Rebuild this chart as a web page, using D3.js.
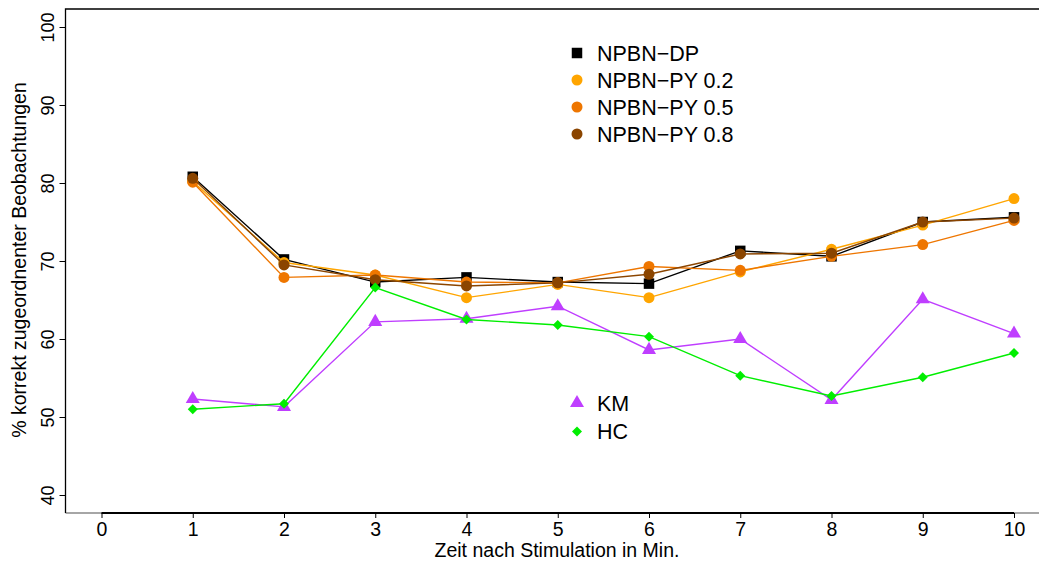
<!DOCTYPE html>
<html>
<head>
<meta charset="utf-8">
<script src="https://cdn.jsdelivr.net/npm/d3@7.9.0/dist/d3.min.js"></script>
<style>
  body { margin: 0; background: #fff; }
  svg { display: block; font-family: "Liberation Sans", Arial, sans-serif; }
</style>
</head>
<body>
<div id="chart"></div>
<script>
// Minutes after stimulation
const minutes = [1, 2, 3, 4, 5, 6, 7, 8, 9, 10];

// % correctly assigned observations per method
const npbnDP = [80.8, 70.2, 67.3, 67.9, 67.3, 67.1, 71.3, 70.6, 75.0, 75.6];
const npbnPY02 = [80.2, 69.8, 68.2, 65.3, 67.0, 65.3, 68.6, 71.5, 74.6, 78.0];
const npbnPY05 = [80.1, 67.9, 68.2, 67.3, 67.2, 69.3, 68.8, 70.6, 72.1, 75.2];
const npbnPY08 = [80.6, 69.5, 67.6, 66.8, 67.2, 68.3, 70.9, 71.0, 75.0, 75.5];
const km = [52.3, 51.3, 62.2, 62.6, 64.2, 58.6, 60.0, 52.2, 65.1, 60.7];
const hc = [51.0, 51.7, 66.6, 62.5, 61.8, 60.3, 55.3, 52.7, 55.1, 58.2];

const xTicks = d3.range(0, 11);
const yTicks = [40, 50, 60, 70, 80, 90, 100];

const seriesTop = [
  { name: "NPBN\u2212DP", values: npbnDP, color: "#000000", shape: "square" },
  { name: "NPBN\u2212PY 0.2", values: npbnPY02, color: "#FFA500", shape: "circle" },
  { name: "NPBN\u2212PY 0.5", values: npbnPY05, color: "#EE7600", shape: "circle" },
  { name: "NPBN\u2212PY 0.8", values: npbnPY08, color: "#8B4500", shape: "circle" },
];
const seriesBottom = [
  { name: "KM", values: km, color: "#BF3EFF", shape: "triangle" },
  { name: "HC", values: hc, color: "#00EE00", shape: "diamond" },
];

const width = 1039;
const height = 563;
const frame = { left: 65.5, top: 9, bottom: 513, right: width };

const x = d3.scaleLinear().domain([0, 10]).range([101.5, 1014]);
const y = d3.scaleLinear().domain([40, 100]).range([495, 27]);

const svg = d3.select("#chart").append("svg")
  .attr("width", width).attr("height", height);

// box (grey bottom, black left/top)
svg.append("line")
  .attr("x1", frame.left).attr("x2", frame.right)
  .attr("y1", frame.bottom).attr("y2", frame.bottom)
  .attr("stroke", "#888").attr("stroke-width", 1.5);
svg.append("path")
  .attr("d", `M${frame.left},${frame.bottom}V${frame.top}H${frame.right}`)
  .attr("fill", "none").attr("stroke", "#000").attr("stroke-width", 1.3);

// x axis
const gx = svg.append("g").attr("transform", `translate(0,${frame.bottom})`)
  .call(d3.axisBottom(x).tickValues(xTicks).tickSize(5).tickPadding(4).tickFormat(d3.format("d")));
gx.select(".domain").attr("stroke-width", 2).attr("d", `M${x(0)},0H${x(10)}`);
gx.selectAll(".tick line").attr("stroke-width", 1);
gx.selectAll("text").attr("font-size", 19.5).attr("fill", "#000").attr("font-family", "Liberation Sans, Arial, sans-serif");

// y axis
const gy = svg.append("g").attr("transform", `translate(${frame.left},0)`)
  .call(d3.axisLeft(y).tickValues(yTicks).tickSize(6));
gy.select(".domain").remove();
gy.selectAll(".tick text")
  .attr("x", null).attr("dy", null)
  .attr("transform", "translate(-12,0) rotate(-90)")
  .attr("text-anchor", "middle")
  .attr("font-size", 18).attr("fill", "#000")
  .attr("font-family", "Liberation Sans, Arial, sans-serif");

// axis titles
svg.append("text")
  .attr("x", 557).attr("y", 557)
  .attr("text-anchor", "middle").attr("font-size", 19.5)
  .text("Zeit nach Stimulation in Min.");
svg.append("text")
  .attr("transform", `translate(26,${y(70) - 1}) rotate(-90)`)
  .attr("text-anchor", "middle").attr("font-size", 19.5)
  .text("% korrekt zugeordnenter Beobachtungen");

const symbols = {
  square: d3.symbol(d3.symbolSquare, 110),
  circle: d3.symbol(d3.symbolCircle, 95),
  triangle: d3.symbol(d3.symbolTriangle, 85),
  diamond: d3.symbol(d3.symbolSquare, 50),
};
const rotation = { square: 0, circle: 0, triangle: 0, diamond: 45 };

const line = d3.line().x((d, i) => x(minutes[i])).y((d) => y(d));

function drawSeries(s) {
  const g = svg.append("g");
  g.append("path")
    .attr("d", line(s.values))
    .attr("fill", "none").attr("stroke", s.color).attr("stroke-width", 1.4);
  g.selectAll("path.pt")
    .data(s.values)
    .join("path")
    .attr("class", "pt")
    .attr("transform", (d, i) => `translate(${x(minutes[i])},${y(d)}) rotate(${rotation[s.shape]})`)
    .attr("d", symbols[s.shape]())
    .attr("fill", s.color);
}

seriesTop.forEach(drawSeries);
seriesBottom.forEach(drawSeries);

function drawLegend(list, x0, y0, step) {
  const g = svg.append("g").attr("transform", `translate(${x0},${y0})`);
  list.forEach((s, i) => {
    g.append("path")
      .attr("transform", `translate(0,${i * step}) rotate(${rotation[s.shape]})`)
      .attr("d", symbols[s.shape]())
      .attr("fill", s.color);
    g.append("text")
      .attr("x", 20).attr("y", i * step).attr("dy", "0.36em")
      .attr("font-size", 21.5)
      .text(s.name);
  });
}

drawLegend(seriesTop, 577, 53, 27);
drawLegend(seriesBottom, 577, 403, 28.5);
</script>
</body>
</html>
